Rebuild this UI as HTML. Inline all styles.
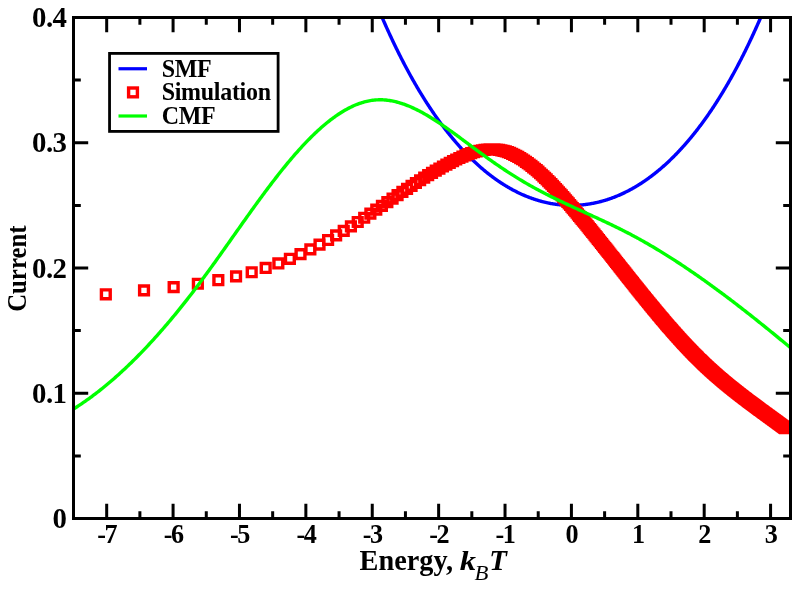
<!DOCTYPE html>
<html><head><meta charset="utf-8"><style>html,body{margin:0;padding:0;background:#fff;overflow:hidden}svg{display:block;will-change:transform}</style></head>
<body>
<svg width="800" height="589" viewBox="0 0 800 589">
<rect width="800" height="589" fill="#fff"/>
<defs><clipPath id="c"><rect x="73.5" y="17.5" width="717.0" height="501.0"/></clipPath></defs>
<g clip-path="url(#c)" fill="none" stroke-width="3.4" stroke-linejoin="round">
<path d="M358.97,-41.60 L359.51,-40.09 L360.05,-38.58 L360.59,-37.09 L361.13,-35.60 L361.67,-34.12 L362.21,-32.64 L362.75,-31.17 L363.29,-29.71 L363.83,-28.25 L364.37,-26.80 L364.91,-25.35 L365.45,-23.92 L365.99,-22.49 L366.53,-21.06 L367.07,-19.64 L367.61,-18.23 L368.15,-16.82 L368.69,-15.42 L369.23,-14.03 L369.77,-12.64 L370.31,-11.26 L370.85,-9.89 L371.39,-8.52 L371.93,-7.16 L372.47,-5.80 L373.01,-4.45 L373.55,-3.10 L374.09,-1.77 L374.63,-0.43 L375.17,0.89 L375.71,2.21 L376.25,3.53 L376.80,4.84 L377.34,6.14 L377.88,7.44 L378.42,8.73 L378.96,10.01 L379.50,11.29 L380.04,12.56 L380.58,13.83 L381.12,15.09 L381.66,16.35 L382.20,17.60 L382.74,18.84 L383.28,20.08 L383.82,21.32 L384.36,22.54 L384.90,23.77 L385.44,24.98 L385.98,26.19 L386.52,27.40 L387.06,28.60 L387.60,29.79 L388.14,30.98 L388.68,32.16 L389.22,33.34 L389.76,34.51 L390.30,35.68 L390.84,36.84 L391.38,38.00 L391.92,39.15 L392.46,40.30 L393.00,41.44 L393.54,42.57 L394.08,43.70 L394.62,44.82 L395.16,45.94 L395.70,47.06 L396.24,48.17 L396.78,49.27 L397.32,50.37 L397.86,51.46 L398.40,52.55 L398.94,53.63 L399.48,54.71 L400.02,55.78 L400.56,56.85 L401.10,57.91 L401.64,58.97 L402.18,60.02 L402.72,61.07 L403.26,62.11 L403.80,63.15 L404.34,64.18 L404.88,65.21 L405.42,66.23 L405.96,67.25 L406.50,68.27 L407.04,69.27 L407.58,70.28 L408.12,71.28 L408.66,72.27 L409.20,73.26 L409.74,74.24 L410.28,75.22 L410.82,76.20 L411.36,77.17 L411.90,78.13 L412.44,79.09 L412.98,80.05 L413.52,81.00 L414.06,81.95 L414.60,82.89 L415.14,83.82 L415.68,84.76 L416.22,85.69 L416.76,86.61 L417.30,87.53 L417.84,88.44 L418.38,89.35 L418.92,90.26 L419.46,91.16 L420.00,92.05 L420.54,92.95 L421.08,93.83 L421.62,94.72 L422.16,95.60 L422.70,96.47 L423.24,97.34 L423.78,98.21 L424.32,99.07 L424.86,99.92 L425.40,100.78 L425.94,101.62 L426.48,102.47 L427.02,103.31 L427.56,104.14 L428.10,104.97 L428.64,105.80 L429.18,106.62 L429.72,107.44 L430.26,108.25 L430.80,109.06 L431.34,109.87 L431.88,110.67 L432.42,111.47 L432.96,112.26 L433.50,113.05 L434.04,113.84 L434.58,114.62 L435.12,115.39 L435.66,116.17 L436.20,116.93 L436.74,117.70 L437.28,118.46 L437.82,119.22 L438.36,119.97 L438.90,120.72 L439.44,121.46 L439.98,122.20 L440.53,122.94 L441.07,123.67 L441.61,124.40 L442.15,125.12 L442.69,125.84 L443.23,126.56 L443.77,127.27 L444.31,127.98 L444.85,128.69 L445.39,129.39 L445.93,130.09 L446.47,130.78 L447.01,131.47 L447.55,132.16 L448.09,132.84 L448.63,133.52 L449.17,134.19 L449.71,134.86 L450.25,135.53 L450.79,136.19 L451.33,136.85 L451.87,137.51 L452.41,138.16 L452.95,138.81 L453.49,139.46 L454.03,140.10 L454.57,140.73 L455.11,141.37 L455.65,142.00 L456.19,142.62 L456.73,143.25 L457.27,143.87 L457.81,144.48 L458.35,145.09 L458.89,145.70 L459.43,146.31 L459.97,146.91 L460.51,147.51 L461.05,148.10 L461.59,148.69 L462.13,149.28 L462.67,149.86 L463.21,150.44 L463.75,151.02 L464.29,151.59 L464.83,152.16 L465.37,152.73 L465.91,153.29 L466.45,153.85 L466.99,154.41 L467.53,154.96 L468.07,155.51 L468.61,156.05 L469.15,156.59 L469.69,157.13 L470.23,157.67 L470.77,158.20 L471.31,158.73 L471.85,159.25 L472.39,159.78 L472.93,160.30 L473.47,160.81 L474.01,161.32 L474.55,161.83 L475.09,162.34 L475.63,162.84 L476.17,163.34 L476.71,163.83 L477.25,164.32 L477.79,164.81 L478.33,165.30 L478.87,165.78 L479.41,166.26 L479.95,166.74 L480.49,167.21 L481.03,167.68 L481.57,168.14 L482.11,168.61 L482.65,169.07 L483.19,169.52 L483.73,169.98 L484.27,170.43 L484.81,170.87 L485.35,171.32 L485.89,171.76 L486.43,172.20 L486.97,172.63 L487.51,173.06 L488.05,173.49 L488.59,173.92 L489.13,174.34 L489.67,174.76 L490.21,175.17 L490.75,175.58 L491.29,175.99 L491.83,176.40 L492.37,176.80 L492.91,177.20 L493.45,177.60 L493.99,178.00 L494.53,178.39 L495.07,178.78 L495.61,179.16 L496.15,179.54 L496.69,179.92 L497.23,180.30 L497.77,180.67 L498.31,181.04 L498.85,181.41 L499.39,181.77 L499.93,182.13 L500.47,182.49 L501.01,182.85 L501.55,183.20 L502.09,183.55 L502.63,183.89 L503.17,184.24 L503.71,184.58 L504.26,184.92 L504.80,185.25 L505.34,185.58 L505.88,185.91 L506.42,186.24 L506.96,186.56 L507.50,186.88 L508.04,187.20 L508.58,187.51 L509.12,187.82 L509.66,188.13 L510.20,188.44 L510.74,188.74 L511.28,189.04 L511.82,189.34 L512.36,189.63 L512.90,189.92 L513.44,190.21 L513.98,190.50 L514.52,190.78 L515.06,191.06 L515.60,191.33 L516.14,191.61 L516.68,191.88 L517.22,192.15 L517.76,192.42 L518.30,192.68 L518.84,192.94 L519.38,193.20 L519.92,193.45 L520.46,193.70 L521.00,193.95 L521.54,194.20 L522.08,194.44 L522.62,194.68 L523.16,194.92 L523.70,195.15 L524.24,195.39 L524.78,195.62 L525.32,195.84 L525.86,196.07 L526.40,196.29 L526.94,196.51 L527.48,196.72 L528.02,196.94 L528.56,197.15 L529.10,197.36 L529.64,197.56 L530.18,197.76 L530.72,197.96 L531.26,198.16 L531.80,198.35 L532.34,198.55 L532.88,198.73 L533.42,198.92 L533.96,199.10 L534.50,199.28 L535.04,199.46 L535.58,199.64 L536.12,199.81 L536.66,199.98 L537.20,200.15 L537.74,200.31 L538.28,200.47 L538.82,200.63 L539.36,200.79 L539.90,200.94 L540.44,201.10 L540.98,201.24 L541.52,201.39 L542.06,201.53 L542.60,201.67 L543.14,201.81 L543.68,201.95 L544.22,202.08 L544.76,202.21 L545.30,202.34 L545.84,202.46 L546.38,202.58 L546.92,202.70 L547.46,202.82 L548.00,202.93 L548.54,203.05 L549.08,203.15 L549.62,203.26 L550.16,203.36 L550.70,203.47 L551.24,203.56 L551.78,203.66 L552.32,203.75 L552.86,203.84 L553.40,203.93 L553.94,204.02 L554.48,204.10 L555.02,204.18 L555.56,204.26 L556.10,204.33 L556.64,204.40 L557.18,204.47 L557.72,204.54 L558.26,204.61 L558.80,204.67 L559.34,204.73 L559.88,204.78 L560.42,204.84 L560.96,204.89 L561.50,204.94 L562.04,204.98 L562.58,205.03 L563.12,205.07 L563.66,205.11 L564.20,205.14 L564.74,205.18 L565.28,205.21 L565.82,205.24 L566.36,205.26 L566.90,205.28 L567.44,205.30 L567.99,205.32 L568.53,205.34 L569.07,205.35 L569.61,205.36 L570.15,205.37 L570.69,205.37 L571.23,205.37 L571.77,205.37 L572.31,205.37 L572.85,205.37 L573.39,205.36 L573.93,205.35 L574.47,205.33 L575.01,205.32 L575.55,205.30 L576.09,205.28 L576.63,205.25 L577.17,205.23 L577.71,205.20 L578.25,205.17 L578.79,205.13 L579.33,205.10 L579.87,205.06 L580.41,205.02 L580.95,204.97 L581.49,204.92 L582.03,204.87 L582.57,204.82 L583.11,204.77 L583.65,204.71 L584.19,204.65 L584.73,204.59 L585.27,204.52 L585.81,204.45 L586.35,204.38 L586.89,204.31 L587.43,204.24 L587.97,204.16 L588.51,204.08 L589.05,203.99 L589.59,203.91 L590.13,203.82 L590.67,203.73 L591.21,203.63 L591.75,203.54 L592.29,203.44 L592.83,203.33 L593.37,203.23 L593.91,203.12 L594.45,203.01 L594.99,202.90 L595.53,202.79 L596.07,202.67 L596.61,202.55 L597.15,202.43 L597.69,202.30 L598.23,202.17 L598.77,202.04 L599.31,201.91 L599.85,201.77 L600.39,201.63 L600.93,201.49 L601.47,201.35 L602.01,201.20 L602.55,201.05 L603.09,200.90 L603.63,200.74 L604.17,200.59 L604.71,200.43 L605.25,200.26 L605.79,200.10 L606.33,199.93 L606.87,199.76 L607.41,199.59 L607.95,199.41 L608.49,199.23 L609.03,199.05 L609.57,198.87 L610.11,198.68 L610.65,198.49 L611.19,198.30 L611.73,198.10 L612.27,197.90 L612.81,197.70 L613.35,197.50 L613.89,197.30 L614.43,197.09 L614.97,196.88 L615.51,196.66 L616.05,196.44 L616.59,196.23 L617.13,196.00 L617.67,195.78 L618.21,195.55 L618.75,195.32 L619.29,195.09 L619.83,194.85 L620.37,194.61 L620.91,194.37 L621.45,194.13 L621.99,193.88 L622.53,193.63 L623.07,193.38 L623.61,193.12 L624.15,192.86 L624.69,192.60 L625.23,192.34 L625.77,192.07 L626.31,191.80 L626.85,191.53 L627.39,191.25 L627.93,190.98 L628.47,190.70 L629.01,190.41 L629.55,190.13 L630.09,189.84 L630.63,189.54 L631.17,189.25 L631.72,188.95 L632.26,188.65 L632.80,188.35 L633.34,188.04 L633.88,187.73 L634.42,187.42 L634.96,187.10 L635.50,186.79 L636.04,186.47 L636.58,186.14 L637.12,185.81 L637.66,185.49 L638.20,185.15 L638.74,184.82 L639.28,184.48 L639.82,184.14 L640.36,183.79 L640.90,183.45 L641.44,183.10 L641.98,182.74 L642.52,182.39 L643.06,182.03 L643.60,181.67 L644.14,181.30 L644.68,180.93 L645.22,180.56 L645.76,180.19 L646.30,179.81 L646.84,179.43 L647.38,179.05 L647.92,178.66 L648.46,178.27 L649.00,177.88 L649.54,177.49 L650.08,177.09 L650.62,176.69 L651.16,176.28 L651.70,175.87 L652.24,175.46 L652.78,175.05 L653.32,174.63 L653.86,174.21 L654.40,173.79 L654.94,173.37 L655.48,172.94 L656.02,172.50 L656.56,172.07 L657.10,171.63 L657.64,171.19 L658.18,170.74 L658.72,170.30 L659.26,169.84 L659.80,169.39 L660.34,168.93 L660.88,168.47 L661.42,168.01 L661.96,167.54 L662.50,167.07 L663.04,166.60 L663.58,166.12 L664.12,165.64 L664.66,165.16 L665.20,164.67 L665.74,164.18 L666.28,163.69 L666.82,163.19 L667.36,162.69 L667.90,162.19 L668.44,161.68 L668.98,161.17 L669.52,160.66 L670.06,160.14 L670.60,159.62 L671.14,159.10 L671.68,158.58 L672.22,158.05 L672.76,157.51 L673.30,156.98 L673.84,156.44 L674.38,155.89 L674.92,155.35 L675.46,154.80 L676.00,154.24 L676.54,153.69 L677.08,153.13 L677.62,152.56 L678.16,152.00 L678.70,151.42 L679.24,150.85 L679.78,150.27 L680.32,149.69 L680.86,149.11 L681.40,148.52 L681.94,147.93 L682.48,147.33 L683.02,146.73 L683.56,146.13 L684.10,145.52 L684.64,144.92 L685.18,144.30 L685.72,143.69 L686.26,143.07 L686.80,142.44 L687.34,141.81 L687.88,141.18 L688.42,140.55 L688.96,139.91 L689.50,139.27 L690.04,138.62 L690.58,137.97 L691.12,137.32 L691.66,136.66 L692.20,136.00 L692.74,135.34 L693.28,134.67 L693.82,134.00 L694.36,133.32 L694.90,132.64 L695.45,131.96 L695.99,131.27 L696.53,130.58 L697.07,129.88 L697.61,129.19 L698.15,128.48 L698.69,127.78 L699.23,127.07 L699.77,126.35 L700.31,125.63 L700.85,124.91 L701.39,124.19 L701.93,123.46 L702.47,122.72 L703.01,121.99 L703.55,121.24 L704.09,120.50 L704.63,119.75 L705.17,119.00 L705.71,118.24 L706.25,117.48 L706.79,116.71 L707.33,115.94 L707.87,115.17 L708.41,114.39 L708.95,113.61 L709.49,112.82 L710.03,112.03 L710.57,111.24 L711.11,110.44 L711.65,109.63 L712.19,108.83 L712.73,108.02 L713.27,107.20 L713.81,106.38 L714.35,105.56 L714.89,104.73 L715.43,103.90 L715.97,103.06 L716.51,102.22 L717.05,101.38 L717.59,100.53 L718.13,99.67 L718.67,98.82 L719.21,97.95 L719.75,97.09 L720.29,96.21 L720.83,95.34 L721.37,94.46 L721.91,93.58 L722.45,92.69 L722.99,91.79 L723.53,90.90 L724.07,89.99 L724.61,89.09 L725.15,88.18 L725.69,87.26 L726.23,86.34 L726.77,85.41 L727.31,84.48 L727.85,83.55 L728.39,82.61 L728.93,81.67 L729.47,80.72 L730.01,79.77 L730.55,78.81 L731.09,77.85 L731.63,76.88 L732.17,75.91 L732.71,74.94 L733.25,73.95 L733.79,72.97 L734.33,71.98 L734.87,70.98 L735.41,69.98 L735.95,68.98 L736.49,67.97 L737.03,66.95 L737.57,65.94 L738.11,64.91 L738.65,63.88 L739.19,62.85 L739.73,61.81 L740.27,60.76 L740.81,59.72 L741.35,58.66 L741.89,57.60 L742.43,56.54 L742.97,55.47 L743.51,54.40 L744.05,53.32 L744.59,52.23 L745.13,51.14 L745.67,50.05 L746.21,48.95 L746.75,47.84 L747.29,46.73 L747.83,45.62 L748.37,44.50 L748.91,43.37 L749.45,42.24 L749.99,41.10 L750.53,39.96 L751.07,38.81 L751.61,37.66 L752.15,36.50 L752.69,35.34 L753.23,34.17 L753.77,33.00 L754.31,31.82 L754.85,30.63 L755.39,29.44 L755.93,28.25 L756.47,27.05 L757.01,25.84 L757.55,24.63 L758.09,23.41 L758.63,22.19 L759.18,20.96 L759.72,19.72 L760.26,18.48 L760.80,17.23 L761.34,15.98 L761.88,14.72 L762.42,13.46 L762.96,12.19 L763.50,10.92 L764.04,9.64 L764.58,8.35 L765.12,7.06 L765.66,5.76 L766.20,4.45 L766.74,3.14 L767.28,1.83 L767.82,0.51 L768.36,-0.82 L768.90,-2.16 L769.44,-3.50 L769.98,-4.84 L770.52,-6.19 L771.06,-7.55 L771.60,-8.92 L772.14,-10.29 L772.68,-11.66 L773.22,-13.05 L773.76,-14.44 L774.30,-15.83 L774.84,-17.23 L775.38,-18.64 L775.92,-20.06 L776.46,-21.48 L777.00,-22.90 L777.54,-24.34 L778.08,-25.78 L778.62,-27.22 L779.16,-28.67 L779.70,-30.13 L780.24,-31.60 L780.78,-33.07 L781.32,-34.55 L781.86,-36.03 L782.40,-37.52 L782.94,-39.02 L783.48,-40.53 L784.02,-42.04 L784.56,-43.56 L785.10,-45.08 L785.64,-46.61 L786.18,-48.15 L786.72,-49.70 L787.26,-51.25 L787.80,-52.81 L788.34,-54.37 L788.88,-55.95 L789.42,-57.53 L789.96,-59.11 L790.50,-60.71" stroke="#0000ff"/>
</g>
<path d="M101.42,289.92h8.799999999999999v8.799999999999999h-8.799999999999999zM139.62,285.94h8.799999999999999v8.799999999999999h-8.799999999999999zM169.25,282.68h8.799999999999999v8.799999999999999h-8.799999999999999zM193.46,279.37h8.799999999999999v8.799999999999999h-8.799999999999999zM213.93,275.81h8.799999999999999v8.799999999999999h-8.799999999999999zM231.66,271.97h8.799999999999999v8.799999999999999h-8.799999999999999zM247.29,267.87h8.799999999999999v8.799999999999999h-8.799999999999999zM261.28,263.56h8.799999999999999v8.799999999999999h-8.799999999999999zM273.94,259.06h8.799999999999999v8.799999999999999h-8.799999999999999zM285.49,254.42h8.799999999999999v8.799999999999999h-8.799999999999999zM296.12,249.71h8.799999999999999v8.799999999999999h-8.799999999999999zM305.96,244.99h8.799999999999999v8.799999999999999h-8.799999999999999zM315.12,240.27h8.799999999999999v8.799999999999999h-8.799999999999999zM323.69,235.60h8.799999999999999v8.799999999999999h-8.799999999999999zM331.74,230.98h8.799999999999999v8.799999999999999h-8.799999999999999zM339.33,226.43h8.799999999999999v8.799999999999999h-8.799999999999999zM346.51,221.96h8.799999999999999v8.799999999999999h-8.799999999999999zM353.32,217.59h8.799999999999999v8.799999999999999h-8.799999999999999zM359.80,213.34h8.799999999999999v8.799999999999999h-8.799999999999999zM365.97,209.22h8.799999999999999v8.799999999999999h-8.799999999999999zM371.88,205.24h8.799999999999999v8.799999999999999h-8.799999999999999zM377.53,201.41h8.799999999999999v8.799999999999999h-8.799999999999999zM382.95,197.72h8.799999999999999v8.799999999999999h-8.799999999999999zM388.16,194.17h8.799999999999999v8.799999999999999h-8.799999999999999zM393.17,190.78h8.799999999999999v8.799999999999999h-8.799999999999999zM398.00,187.52h8.799999999999999v8.799999999999999h-8.799999999999999zM402.65,184.41h8.799999999999999v8.799999999999999h-8.799999999999999zM407.16,181.43h8.799999999999999v8.799999999999999h-8.799999999999999zM411.51,178.59h8.799999999999999v8.799999999999999h-8.799999999999999zM415.73,175.87h8.799999999999999v8.799999999999999h-8.799999999999999zM419.81,173.29h8.799999999999999v8.799999999999999h-8.799999999999999zM423.77,170.82h8.799999999999999v8.799999999999999h-8.799999999999999zM427.62,168.48h8.799999999999999v8.799999999999999h-8.799999999999999zM431.36,166.25h8.799999999999999v8.799999999999999h-8.799999999999999zM435.00,164.13h8.799999999999999v8.799999999999999h-8.799999999999999zM438.54,162.12h8.799999999999999v8.799999999999999h-8.799999999999999zM441.99,160.21h8.799999999999999v8.799999999999999h-8.799999999999999zM445.35,158.40h8.799999999999999v8.799999999999999h-8.799999999999999zM448.63,156.69h8.799999999999999v8.799999999999999h-8.799999999999999zM451.83,155.08h8.799999999999999v8.799999999999999h-8.799999999999999zM454.96,153.58h8.799999999999999v8.799999999999999h-8.799999999999999zM458.01,152.19h8.799999999999999v8.799999999999999h-8.799999999999999zM460.99,150.92h8.799999999999999v8.799999999999999h-8.799999999999999zM463.91,149.77h8.799999999999999v8.799999999999999h-8.799999999999999zM466.77,148.74h8.799999999999999v8.799999999999999h-8.799999999999999zM469.56,147.83h8.799999999999999v8.799999999999999h-8.799999999999999zM472.30,147.04h8.799999999999999v8.799999999999999h-8.799999999999999zM474.98,146.38h8.799999999999999v8.799999999999999h-8.799999999999999zM477.61,145.84h8.799999999999999v8.799999999999999h-8.799999999999999zM480.19,145.42h8.799999999999999v8.799999999999999h-8.799999999999999zM482.72,145.13h8.799999999999999v8.799999999999999h-8.799999999999999zM485.20,144.96h8.799999999999999v8.799999999999999h-8.799999999999999zM487.64,144.91h8.799999999999999v8.799999999999999h-8.799999999999999zM490.03,144.97h8.799999999999999v8.799999999999999h-8.799999999999999zM492.38,145.16h8.799999999999999v8.799999999999999h-8.799999999999999zM494.69,145.46h8.799999999999999v8.799999999999999h-8.799999999999999zM496.96,145.88h8.799999999999999v8.799999999999999h-8.799999999999999zM499.19,146.41h8.799999999999999v8.799999999999999h-8.799999999999999zM501.39,147.03h8.799999999999999v8.799999999999999h-8.799999999999999zM503.54,147.76h8.799999999999999v8.799999999999999h-8.799999999999999zM505.67,148.56h8.799999999999999v8.799999999999999h-8.799999999999999zM507.76,149.45h8.799999999999999v8.799999999999999h-8.799999999999999zM509.82,150.41h8.799999999999999v8.799999999999999h-8.799999999999999zM511.85,151.43h8.799999999999999v8.799999999999999h-8.799999999999999zM513.84,152.52h8.799999999999999v8.799999999999999h-8.799999999999999zM515.81,153.66h8.799999999999999v8.799999999999999h-8.799999999999999zM517.75,154.86h8.799999999999999v8.799999999999999h-8.799999999999999zM519.66,156.10h8.799999999999999v8.799999999999999h-8.799999999999999zM521.54,157.39h8.799999999999999v8.799999999999999h-8.799999999999999zM523.40,158.71h8.799999999999999v8.799999999999999h-8.799999999999999zM525.23,160.08h8.799999999999999v8.799999999999999h-8.799999999999999zM527.04,161.47h8.799999999999999v8.799999999999999h-8.799999999999999zM528.82,162.90h8.799999999999999v8.799999999999999h-8.799999999999999zM530.58,164.35h8.799999999999999v8.799999999999999h-8.799999999999999zM532.31,165.82h8.799999999999999v8.799999999999999h-8.799999999999999zM534.03,167.32h8.799999999999999v8.799999999999999h-8.799999999999999zM535.72,168.84h8.799999999999999v8.799999999999999h-8.799999999999999zM537.39,170.37h8.799999999999999v8.799999999999999h-8.799999999999999zM539.04,171.92h8.799999999999999v8.799999999999999h-8.799999999999999zM540.67,173.48h8.799999999999999v8.799999999999999h-8.799999999999999zM542.28,175.05h8.799999999999999v8.799999999999999h-8.799999999999999zM543.87,176.63h8.799999999999999v8.799999999999999h-8.799999999999999zM545.44,178.22h8.799999999999999v8.799999999999999h-8.799999999999999zM546.99,179.82h8.799999999999999v8.799999999999999h-8.799999999999999zM548.53,181.42h8.799999999999999v8.799999999999999h-8.799999999999999zM550.04,183.02h8.799999999999999v8.799999999999999h-8.799999999999999zM551.54,184.63h8.799999999999999v8.799999999999999h-8.799999999999999zM553.03,186.24h8.799999999999999v8.799999999999999h-8.799999999999999zM554.49,187.85h8.799999999999999v8.799999999999999h-8.799999999999999zM555.95,189.45h8.799999999999999v8.799999999999999h-8.799999999999999zM557.38,191.06h8.799999999999999v8.799999999999999h-8.799999999999999zM558.80,192.66h8.799999999999999v8.799999999999999h-8.799999999999999zM560.21,194.26h8.799999999999999v8.799999999999999h-8.799999999999999zM561.60,195.85h8.799999999999999v8.799999999999999h-8.799999999999999zM562.97,197.44h8.799999999999999v8.799999999999999h-8.799999999999999zM564.33,199.02h8.799999999999999v8.799999999999999h-8.799999999999999zM565.68,200.60h8.799999999999999v8.799999999999999h-8.799999999999999zM567.02,202.17h8.799999999999999v8.799999999999999h-8.799999999999999zM568.34,203.73h8.799999999999999v8.799999999999999h-8.799999999999999zM569.65,205.28h8.799999999999999v8.799999999999999h-8.799999999999999zM570.94,206.82h8.799999999999999v8.799999999999999h-8.799999999999999zM572.22,208.36h8.799999999999999v8.799999999999999h-8.799999999999999zM573.49,209.88h8.799999999999999v8.799999999999999h-8.799999999999999zM574.75,211.40h8.799999999999999v8.799999999999999h-8.799999999999999zM576.00,212.91h8.799999999999999v8.799999999999999h-8.799999999999999zM577.24,214.40h8.799999999999999v8.799999999999999h-8.799999999999999zM578.46,215.89h8.799999999999999v8.799999999999999h-8.799999999999999zM579.67,217.37h8.799999999999999v8.799999999999999h-8.799999999999999zM580.87,218.84h8.799999999999999v8.799999999999999h-8.799999999999999zM582.06,220.30h8.799999999999999v8.799999999999999h-8.799999999999999zM583.24,221.75h8.799999999999999v8.799999999999999h-8.799999999999999zM584.41,223.20h8.799999999999999v8.799999999999999h-8.799999999999999zM585.57,224.63h8.799999999999999v8.799999999999999h-8.799999999999999zM586.72,226.05h8.799999999999999v8.799999999999999h-8.799999999999999zM587.86,227.47h8.799999999999999v8.799999999999999h-8.799999999999999zM588.99,228.87h8.799999999999999v8.799999999999999h-8.799999999999999zM590.11,230.26h8.799999999999999v8.799999999999999h-8.799999999999999zM591.22,231.65h8.799999999999999v8.799999999999999h-8.799999999999999zM592.33,233.03h8.799999999999999v8.799999999999999h-8.799999999999999zM593.42,234.39h8.799999999999999v8.799999999999999h-8.799999999999999zM594.50,235.75h8.799999999999999v8.799999999999999h-8.799999999999999zM595.58,237.10h8.799999999999999v8.799999999999999h-8.799999999999999zM596.65,238.44h8.799999999999999v8.799999999999999h-8.799999999999999zM597.70,239.77h8.799999999999999v8.799999999999999h-8.799999999999999zM598.75,241.09h8.799999999999999v8.799999999999999h-8.799999999999999zM599.79,242.40h8.799999999999999v8.799999999999999h-8.799999999999999zM600.83,243.71h8.799999999999999v8.799999999999999h-8.799999999999999zM601.85,245.00h8.799999999999999v8.799999999999999h-8.799999999999999zM602.87,246.28h8.799999999999999v8.799999999999999h-8.799999999999999zM603.88,247.56h8.799999999999999v8.799999999999999h-8.799999999999999zM604.88,248.83h8.799999999999999v8.799999999999999h-8.799999999999999zM605.88,250.09h8.799999999999999v8.799999999999999h-8.799999999999999zM606.86,251.34h8.799999999999999v8.799999999999999h-8.799999999999999zM607.84,252.58h8.799999999999999v8.799999999999999h-8.799999999999999zM608.82,253.81h8.799999999999999v8.799999999999999h-8.799999999999999zM609.78,255.03h8.799999999999999v8.799999999999999h-8.799999999999999zM610.74,256.25h8.799999999999999v8.799999999999999h-8.799999999999999zM611.69,257.45h8.799999999999999v8.799999999999999h-8.799999999999999zM612.64,258.65h8.799999999999999v8.799999999999999h-8.799999999999999zM613.58,259.84h8.799999999999999v8.799999999999999h-8.799999999999999zM614.51,261.02h8.799999999999999v8.799999999999999h-8.799999999999999zM615.43,262.19h8.799999999999999v8.799999999999999h-8.799999999999999zM616.35,263.36h8.799999999999999v8.799999999999999h-8.799999999999999zM617.26,264.51h8.799999999999999v8.799999999999999h-8.799999999999999zM618.17,265.66h8.799999999999999v8.799999999999999h-8.799999999999999zM619.07,266.80h8.799999999999999v8.799999999999999h-8.799999999999999zM619.97,267.93h8.799999999999999v8.799999999999999h-8.799999999999999zM620.85,269.05h8.799999999999999v8.799999999999999h-8.799999999999999zM621.74,270.17h8.799999999999999v8.799999999999999h-8.799999999999999zM622.61,271.28h8.799999999999999v8.799999999999999h-8.799999999999999zM623.48,272.38h8.799999999999999v8.799999999999999h-8.799999999999999zM624.35,273.47h8.799999999999999v8.799999999999999h-8.799999999999999zM625.21,274.55h8.799999999999999v8.799999999999999h-8.799999999999999zM626.06,275.63h8.799999999999999v8.799999999999999h-8.799999999999999zM626.91,276.70h8.799999999999999v8.799999999999999h-8.799999999999999zM627.75,277.76h8.799999999999999v8.799999999999999h-8.799999999999999zM628.59,278.81h8.799999999999999v8.799999999999999h-8.799999999999999zM629.42,279.85h8.799999999999999v8.799999999999999h-8.799999999999999zM630.25,280.89h8.799999999999999v8.799999999999999h-8.799999999999999zM631.07,281.92h8.799999999999999v8.799999999999999h-8.799999999999999zM631.89,282.95h8.799999999999999v8.799999999999999h-8.799999999999999zM632.70,283.96h8.799999999999999v8.799999999999999h-8.799999999999999zM633.51,284.97h8.799999999999999v8.799999999999999h-8.799999999999999zM634.31,285.97h8.799999999999999v8.799999999999999h-8.799999999999999zM635.11,286.97h8.799999999999999v8.799999999999999h-8.799999999999999zM635.90,287.95h8.799999999999999v8.799999999999999h-8.799999999999999zM636.69,288.93h8.799999999999999v8.799999999999999h-8.799999999999999zM637.47,289.91h8.799999999999999v8.799999999999999h-8.799999999999999zM638.25,290.87h8.799999999999999v8.799999999999999h-8.799999999999999zM639.03,291.83h8.799999999999999v8.799999999999999h-8.799999999999999zM639.80,292.78h8.799999999999999v8.799999999999999h-8.799999999999999zM640.56,293.73h8.799999999999999v8.799999999999999h-8.799999999999999zM641.32,294.67h8.799999999999999v8.799999999999999h-8.799999999999999zM642.08,295.60h8.799999999999999v8.799999999999999h-8.799999999999999zM642.83,296.53h8.799999999999999v8.799999999999999h-8.799999999999999zM643.58,297.44h8.799999999999999v8.799999999999999h-8.799999999999999zM644.32,298.36h8.799999999999999v8.799999999999999h-8.799999999999999zM645.06,299.26h8.799999999999999v8.799999999999999h-8.799999999999999zM645.80,300.16h8.799999999999999v8.799999999999999h-8.799999999999999zM646.53,301.05h8.799999999999999v8.799999999999999h-8.799999999999999zM647.26,301.94h8.799999999999999v8.799999999999999h-8.799999999999999zM647.98,302.82h8.799999999999999v8.799999999999999h-8.799999999999999zM648.70,303.69h8.799999999999999v8.799999999999999h-8.799999999999999zM649.42,304.56h8.799999999999999v8.799999999999999h-8.799999999999999zM650.13,305.42h8.799999999999999v8.799999999999999h-8.799999999999999zM650.84,306.27h8.799999999999999v8.799999999999999h-8.799999999999999zM651.54,307.12h8.799999999999999v8.799999999999999h-8.799999999999999zM652.24,307.96h8.799999999999999v8.799999999999999h-8.799999999999999zM652.94,308.80h8.799999999999999v8.799999999999999h-8.799999999999999zM653.63,309.63h8.799999999999999v8.799999999999999h-8.799999999999999zM654.32,310.46h8.799999999999999v8.799999999999999h-8.799999999999999zM655.01,311.27h8.799999999999999v8.799999999999999h-8.799999999999999zM655.69,312.09h8.799999999999999v8.799999999999999h-8.799999999999999zM656.37,312.89h8.799999999999999v8.799999999999999h-8.799999999999999zM657.04,313.69h8.799999999999999v8.799999999999999h-8.799999999999999zM657.72,314.49h8.799999999999999v8.799999999999999h-8.799999999999999zM658.39,315.28h8.799999999999999v8.799999999999999h-8.799999999999999zM659.05,316.06h8.799999999999999v8.799999999999999h-8.799999999999999zM659.71,316.84h8.799999999999999v8.799999999999999h-8.799999999999999zM660.37,317.61h8.799999999999999v8.799999999999999h-8.799999999999999zM661.03,318.38h8.799999999999999v8.799999999999999h-8.799999999999999zM661.68,319.14h8.799999999999999v8.799999999999999h-8.799999999999999zM662.33,319.90h8.799999999999999v8.799999999999999h-8.799999999999999zM662.98,320.65h8.799999999999999v8.799999999999999h-8.799999999999999zM663.62,321.39h8.799999999999999v8.799999999999999h-8.799999999999999zM664.26,322.13h8.799999999999999v8.799999999999999h-8.799999999999999zM664.90,322.87h8.799999999999999v8.799999999999999h-8.799999999999999zM665.53,323.60h8.799999999999999v8.799999999999999h-8.799999999999999zM666.16,324.32h8.799999999999999v8.799999999999999h-8.799999999999999zM666.79,325.04h8.799999999999999v8.799999999999999h-8.799999999999999zM667.41,325.76h8.799999999999999v8.799999999999999h-8.799999999999999zM668.03,326.46h8.799999999999999v8.799999999999999h-8.799999999999999zM668.65,327.17h8.799999999999999v8.799999999999999h-8.799999999999999zM669.27,327.87h8.799999999999999v8.799999999999999h-8.799999999999999zM669.88,328.56h8.799999999999999v8.799999999999999h-8.799999999999999zM670.49,329.25h8.799999999999999v8.799999999999999h-8.799999999999999zM671.10,329.93h8.799999999999999v8.799999999999999h-8.799999999999999zM671.71,330.61h8.799999999999999v8.799999999999999h-8.799999999999999zM672.31,331.28h8.799999999999999v8.799999999999999h-8.799999999999999zM672.91,331.95h8.799999999999999v8.799999999999999h-8.799999999999999zM673.50,332.62h8.799999999999999v8.799999999999999h-8.799999999999999zM674.10,333.27h8.799999999999999v8.799999999999999h-8.799999999999999zM674.69,333.93h8.799999999999999v8.799999999999999h-8.799999999999999zM675.28,334.58h8.799999999999999v8.799999999999999h-8.799999999999999zM675.87,335.22h8.799999999999999v8.799999999999999h-8.799999999999999zM676.45,335.86h8.799999999999999v8.799999999999999h-8.799999999999999zM677.03,336.50h8.799999999999999v8.799999999999999h-8.799999999999999zM677.61,337.13h8.799999999999999v8.799999999999999h-8.799999999999999zM678.18,337.76h8.799999999999999v8.799999999999999h-8.799999999999999zM678.76,338.38h8.799999999999999v8.799999999999999h-8.799999999999999zM679.33,339.00h8.799999999999999v8.799999999999999h-8.799999999999999zM679.90,339.61h8.799999999999999v8.799999999999999h-8.799999999999999zM680.46,340.22h8.799999999999999v8.799999999999999h-8.799999999999999zM681.03,340.82h8.799999999999999v8.799999999999999h-8.799999999999999zM681.59,341.42h8.799999999999999v8.799999999999999h-8.799999999999999zM682.15,342.02h8.799999999999999v8.799999999999999h-8.799999999999999zM682.71,342.61h8.799999999999999v8.799999999999999h-8.799999999999999zM683.26,343.20h8.799999999999999v8.799999999999999h-8.799999999999999zM683.81,343.78h8.799999999999999v8.799999999999999h-8.799999999999999zM684.36,344.36h8.799999999999999v8.799999999999999h-8.799999999999999zM684.91,344.93h8.799999999999999v8.799999999999999h-8.799999999999999zM685.45,345.50h8.799999999999999v8.799999999999999h-8.799999999999999zM686.00,346.07h8.799999999999999v8.799999999999999h-8.799999999999999zM686.54,346.63h8.799999999999999v8.799999999999999h-8.799999999999999zM687.08,347.19h8.799999999999999v8.799999999999999h-8.799999999999999zM687.61,347.74h8.799999999999999v8.799999999999999h-8.799999999999999zM688.15,348.29h8.799999999999999v8.799999999999999h-8.799999999999999zM688.68,348.84h8.799999999999999v8.799999999999999h-8.799999999999999zM689.21,349.38h8.799999999999999v8.799999999999999h-8.799999999999999zM689.74,349.92h8.799999999999999v8.799999999999999h-8.799999999999999zM690.26,350.45h8.799999999999999v8.799999999999999h-8.799999999999999zM690.79,350.98h8.799999999999999v8.799999999999999h-8.799999999999999zM691.31,351.51h8.799999999999999v8.799999999999999h-8.799999999999999zM691.83,352.03h8.799999999999999v8.799999999999999h-8.799999999999999zM692.35,352.55h8.799999999999999v8.799999999999999h-8.799999999999999zM692.86,353.06h8.799999999999999v8.799999999999999h-8.799999999999999zM693.38,353.57h8.799999999999999v8.799999999999999h-8.799999999999999zM693.89,354.08h8.799999999999999v8.799999999999999h-8.799999999999999zM694.40,354.58h8.799999999999999v8.799999999999999h-8.799999999999999zM694.90,355.08h8.799999999999999v8.799999999999999h-8.799999999999999zM695.41,355.58h8.799999999999999v8.799999999999999h-8.799999999999999zM695.91,356.07h8.799999999999999v8.799999999999999h-8.799999999999999zM696.42,356.56h8.799999999999999v8.799999999999999h-8.799999999999999zM696.92,357.04h8.799999999999999v8.799999999999999h-8.799999999999999zM697.41,357.52h8.799999999999999v8.799999999999999h-8.799999999999999zM697.91,358.00h8.799999999999999v8.799999999999999h-8.799999999999999zM698.41,358.48h8.799999999999999v8.799999999999999h-8.799999999999999zM698.90,358.95h8.799999999999999v8.799999999999999h-8.799999999999999zM699.39,359.41h8.799999999999999v8.799999999999999h-8.799999999999999zM699.88,359.88h8.799999999999999v8.799999999999999h-8.799999999999999zM700.37,360.34h8.799999999999999v8.799999999999999h-8.799999999999999zM700.85,360.80h8.799999999999999v8.799999999999999h-8.799999999999999zM701.33,361.25h8.799999999999999v8.799999999999999h-8.799999999999999zM701.82,361.70h8.799999999999999v8.799999999999999h-8.799999999999999zM702.30,362.15h8.799999999999999v8.799999999999999h-8.799999999999999zM702.78,362.60h8.799999999999999v8.799999999999999h-8.799999999999999zM703.25,363.04h8.799999999999999v8.799999999999999h-8.799999999999999zM703.73,363.48h8.799999999999999v8.799999999999999h-8.799999999999999zM704.20,363.92h8.799999999999999v8.799999999999999h-8.799999999999999zM704.67,364.35h8.799999999999999v8.799999999999999h-8.799999999999999zM705.14,364.78h8.799999999999999v8.799999999999999h-8.799999999999999zM705.61,365.21h8.799999999999999v8.799999999999999h-8.799999999999999zM706.08,365.63h8.799999999999999v8.799999999999999h-8.799999999999999zM706.54,366.06h8.799999999999999v8.799999999999999h-8.799999999999999zM707.01,366.48h8.799999999999999v8.799999999999999h-8.799999999999999zM707.47,366.89h8.799999999999999v8.799999999999999h-8.799999999999999zM707.93,367.31h8.799999999999999v8.799999999999999h-8.799999999999999zM708.39,367.72h8.799999999999999v8.799999999999999h-8.799999999999999zM708.84,368.13h8.799999999999999v8.799999999999999h-8.799999999999999zM709.30,368.53h8.799999999999999v8.799999999999999h-8.799999999999999zM709.75,368.94h8.799999999999999v8.799999999999999h-8.799999999999999zM710.21,369.34h8.799999999999999v8.799999999999999h-8.799999999999999zM710.66,369.74h8.799999999999999v8.799999999999999h-8.799999999999999zM711.11,370.13h8.799999999999999v8.799999999999999h-8.799999999999999zM711.55,370.53h8.799999999999999v8.799999999999999h-8.799999999999999zM712.00,370.92h8.799999999999999v8.799999999999999h-8.799999999999999zM712.44,371.31h8.799999999999999v8.799999999999999h-8.799999999999999zM712.89,371.69h8.799999999999999v8.799999999999999h-8.799999999999999zM713.33,372.08h8.799999999999999v8.799999999999999h-8.799999999999999zM713.77,372.46h8.799999999999999v8.799999999999999h-8.799999999999999zM714.21,372.84h8.799999999999999v8.799999999999999h-8.799999999999999zM714.65,373.22h8.799999999999999v8.799999999999999h-8.799999999999999zM715.08,373.59h8.799999999999999v8.799999999999999h-8.799999999999999zM715.52,373.97h8.799999999999999v8.799999999999999h-8.799999999999999zM715.95,374.34h8.799999999999999v8.799999999999999h-8.799999999999999zM716.38,374.71h8.799999999999999v8.799999999999999h-8.799999999999999zM716.81,375.07h8.799999999999999v8.799999999999999h-8.799999999999999zM717.24,375.44h8.799999999999999v8.799999999999999h-8.799999999999999zM717.67,375.80h8.799999999999999v8.799999999999999h-8.799999999999999zM718.10,376.16h8.799999999999999v8.799999999999999h-8.799999999999999zM718.52,376.52h8.799999999999999v8.799999999999999h-8.799999999999999zM718.94,376.88h8.799999999999999v8.799999999999999h-8.799999999999999zM719.37,377.23h8.799999999999999v8.799999999999999h-8.799999999999999zM719.79,377.58h8.799999999999999v8.799999999999999h-8.799999999999999zM720.21,377.93h8.799999999999999v8.799999999999999h-8.799999999999999zM720.62,378.28h8.799999999999999v8.799999999999999h-8.799999999999999zM721.04,378.63h8.799999999999999v8.799999999999999h-8.799999999999999zM721.46,378.97h8.799999999999999v8.799999999999999h-8.799999999999999zM721.87,379.32h8.799999999999999v8.799999999999999h-8.799999999999999zM722.28,379.66h8.799999999999999v8.799999999999999h-8.799999999999999zM722.70,380.00h8.799999999999999v8.799999999999999h-8.799999999999999zM723.11,380.34h8.799999999999999v8.799999999999999h-8.799999999999999zM723.52,380.67h8.799999999999999v8.799999999999999h-8.799999999999999zM723.92,381.01h8.799999999999999v8.799999999999999h-8.799999999999999zM724.33,381.34h8.799999999999999v8.799999999999999h-8.799999999999999zM724.74,381.67h8.799999999999999v8.799999999999999h-8.799999999999999zM725.14,382.00h8.799999999999999v8.799999999999999h-8.799999999999999zM725.54,382.33h8.799999999999999v8.799999999999999h-8.799999999999999zM725.94,382.65h8.799999999999999v8.799999999999999h-8.799999999999999zM726.35,382.98h8.799999999999999v8.799999999999999h-8.799999999999999zM726.74,383.30h8.799999999999999v8.799999999999999h-8.799999999999999zM727.14,383.62h8.799999999999999v8.799999999999999h-8.799999999999999zM727.54,383.94h8.799999999999999v8.799999999999999h-8.799999999999999zM727.94,384.26h8.799999999999999v8.799999999999999h-8.799999999999999zM728.33,384.57h8.799999999999999v8.799999999999999h-8.799999999999999zM728.72,384.89h8.799999999999999v8.799999999999999h-8.799999999999999zM729.12,385.20h8.799999999999999v8.799999999999999h-8.799999999999999zM729.51,385.51h8.799999999999999v8.799999999999999h-8.799999999999999zM729.90,385.82h8.799999999999999v8.799999999999999h-8.799999999999999zM730.29,386.13h8.799999999999999v8.799999999999999h-8.799999999999999zM730.67,386.44h8.799999999999999v8.799999999999999h-8.799999999999999zM731.06,386.75h8.799999999999999v8.799999999999999h-8.799999999999999zM731.45,387.05h8.799999999999999v8.799999999999999h-8.799999999999999zM731.83,387.35h8.799999999999999v8.799999999999999h-8.799999999999999zM732.21,387.66h8.799999999999999v8.799999999999999h-8.799999999999999zM732.59,387.96h8.799999999999999v8.799999999999999h-8.799999999999999zM732.98,388.26h8.799999999999999v8.799999999999999h-8.799999999999999zM733.36,388.55h8.799999999999999v8.799999999999999h-8.799999999999999zM733.73,388.85h8.799999999999999v8.799999999999999h-8.799999999999999zM734.11,389.14h8.799999999999999v8.799999999999999h-8.799999999999999zM734.49,389.44h8.799999999999999v8.799999999999999h-8.799999999999999zM734.86,389.73h8.799999999999999v8.799999999999999h-8.799999999999999zM735.24,390.02h8.799999999999999v8.799999999999999h-8.799999999999999zM735.61,390.31h8.799999999999999v8.799999999999999h-8.799999999999999zM735.99,390.60h8.799999999999999v8.799999999999999h-8.799999999999999zM736.36,390.89h8.799999999999999v8.799999999999999h-8.799999999999999zM736.73,391.18h8.799999999999999v8.799999999999999h-8.799999999999999zM737.10,391.46h8.799999999999999v8.799999999999999h-8.799999999999999zM737.46,391.75h8.799999999999999v8.799999999999999h-8.799999999999999zM737.83,392.03h8.799999999999999v8.799999999999999h-8.799999999999999zM738.20,392.31h8.799999999999999v8.799999999999999h-8.799999999999999zM738.56,392.59h8.799999999999999v8.799999999999999h-8.799999999999999zM738.93,392.87h8.799999999999999v8.799999999999999h-8.799999999999999zM739.29,393.15h8.799999999999999v8.799999999999999h-8.799999999999999zM739.65,393.43h8.799999999999999v8.799999999999999h-8.799999999999999zM740.01,393.70h8.799999999999999v8.799999999999999h-8.799999999999999zM740.37,393.98h8.799999999999999v8.799999999999999h-8.799999999999999zM740.73,394.25h8.799999999999999v8.799999999999999h-8.799999999999999zM741.09,394.52h8.799999999999999v8.799999999999999h-8.799999999999999zM741.45,394.80h8.799999999999999v8.799999999999999h-8.799999999999999zM741.81,395.07h8.799999999999999v8.799999999999999h-8.799999999999999zM742.16,395.34h8.799999999999999v8.799999999999999h-8.799999999999999zM742.52,395.60h8.799999999999999v8.799999999999999h-8.799999999999999zM742.87,395.87h8.799999999999999v8.799999999999999h-8.799999999999999zM743.22,396.14h8.799999999999999v8.799999999999999h-8.799999999999999zM743.57,396.40h8.799999999999999v8.799999999999999h-8.799999999999999zM743.93,396.67h8.799999999999999v8.799999999999999h-8.799999999999999zM744.28,396.93h8.799999999999999v8.799999999999999h-8.799999999999999zM744.62,397.20h8.799999999999999v8.799999999999999h-8.799999999999999zM744.97,397.46h8.799999999999999v8.799999999999999h-8.799999999999999zM745.32,397.72h8.799999999999999v8.799999999999999h-8.799999999999999zM745.67,397.98h8.799999999999999v8.799999999999999h-8.799999999999999zM746.01,398.24h8.799999999999999v8.799999999999999h-8.799999999999999zM746.36,398.50h8.799999999999999v8.799999999999999h-8.799999999999999zM746.70,398.75h8.799999999999999v8.799999999999999h-8.799999999999999zM747.04,399.01h8.799999999999999v8.799999999999999h-8.799999999999999zM747.38,399.26h8.799999999999999v8.799999999999999h-8.799999999999999zM747.72,399.52h8.799999999999999v8.799999999999999h-8.799999999999999zM748.06,399.77h8.799999999999999v8.799999999999999h-8.799999999999999zM748.40,400.03h8.799999999999999v8.799999999999999h-8.799999999999999zM748.74,400.28h8.799999999999999v8.799999999999999h-8.799999999999999zM749.08,400.53h8.799999999999999v8.799999999999999h-8.799999999999999zM749.42,400.78h8.799999999999999v8.799999999999999h-8.799999999999999zM749.75,401.03h8.799999999999999v8.799999999999999h-8.799999999999999zM750.09,401.28h8.799999999999999v8.799999999999999h-8.799999999999999zM750.42,401.53h8.799999999999999v8.799999999999999h-8.799999999999999zM750.75,401.77h8.799999999999999v8.799999999999999h-8.799999999999999zM751.09,402.02h8.799999999999999v8.799999999999999h-8.799999999999999zM751.42,402.26h8.799999999999999v8.799999999999999h-8.799999999999999zM751.75,402.51h8.799999999999999v8.799999999999999h-8.799999999999999zM752.08,402.75h8.799999999999999v8.799999999999999h-8.799999999999999zM752.41,403.00h8.799999999999999v8.799999999999999h-8.799999999999999zM752.74,403.24h8.799999999999999v8.799999999999999h-8.799999999999999zM753.06,403.48h8.799999999999999v8.799999999999999h-8.799999999999999zM753.39,403.72h8.799999999999999v8.799999999999999h-8.799999999999999zM753.72,403.96h8.799999999999999v8.799999999999999h-8.799999999999999zM754.04,404.20h8.799999999999999v8.799999999999999h-8.799999999999999zM754.36,404.44h8.799999999999999v8.799999999999999h-8.799999999999999zM754.69,404.68h8.799999999999999v8.799999999999999h-8.799999999999999zM755.01,404.92h8.799999999999999v8.799999999999999h-8.799999999999999zM755.33,405.15h8.799999999999999v8.799999999999999h-8.799999999999999zM755.65,405.39h8.799999999999999v8.799999999999999h-8.799999999999999zM755.97,405.62h8.799999999999999v8.799999999999999h-8.799999999999999zM756.29,405.86h8.799999999999999v8.799999999999999h-8.799999999999999zM756.61,406.09h8.799999999999999v8.799999999999999h-8.799999999999999zM756.93,406.33h8.799999999999999v8.799999999999999h-8.799999999999999zM757.25,406.56h8.799999999999999v8.799999999999999h-8.799999999999999zM757.56,406.79h8.799999999999999v8.799999999999999h-8.799999999999999zM757.88,407.02h8.799999999999999v8.799999999999999h-8.799999999999999zM758.19,407.25h8.799999999999999v8.799999999999999h-8.799999999999999zM758.51,407.48h8.799999999999999v8.799999999999999h-8.799999999999999zM758.82,407.71h8.799999999999999v8.799999999999999h-8.799999999999999zM759.14,407.94h8.799999999999999v8.799999999999999h-8.799999999999999zM759.45,408.17h8.799999999999999v8.799999999999999h-8.799999999999999zM759.76,408.40h8.799999999999999v8.799999999999999h-8.799999999999999zM760.07,408.62h8.799999999999999v8.799999999999999h-8.799999999999999zM760.38,408.85h8.799999999999999v8.799999999999999h-8.799999999999999zM760.69,409.08h8.799999999999999v8.799999999999999h-8.799999999999999zM761.00,409.30h8.799999999999999v8.799999999999999h-8.799999999999999zM761.30,409.53h8.799999999999999v8.799999999999999h-8.799999999999999zM761.61,409.75h8.799999999999999v8.799999999999999h-8.799999999999999zM761.92,409.97h8.799999999999999v8.799999999999999h-8.799999999999999zM762.22,410.20h8.799999999999999v8.799999999999999h-8.799999999999999zM762.53,410.42h8.799999999999999v8.799999999999999h-8.799999999999999zM762.83,410.64h8.799999999999999v8.799999999999999h-8.799999999999999zM763.14,410.86h8.799999999999999v8.799999999999999h-8.799999999999999zM763.44,411.08h8.799999999999999v8.799999999999999h-8.799999999999999zM763.74,411.30h8.799999999999999v8.799999999999999h-8.799999999999999zM764.04,411.52h8.799999999999999v8.799999999999999h-8.799999999999999zM764.34,411.74h8.799999999999999v8.799999999999999h-8.799999999999999zM764.64,411.96h8.799999999999999v8.799999999999999h-8.799999999999999zM764.94,412.18h8.799999999999999v8.799999999999999h-8.799999999999999zM765.24,412.40h8.799999999999999v8.799999999999999h-8.799999999999999zM765.54,412.62h8.799999999999999v8.799999999999999h-8.799999999999999zM765.84,412.83h8.799999999999999v8.799999999999999h-8.799999999999999zM766.13,413.05h8.799999999999999v8.799999999999999h-8.799999999999999zM766.43,413.26h8.799999999999999v8.799999999999999h-8.799999999999999zM766.72,413.48h8.799999999999999v8.799999999999999h-8.799999999999999zM767.02,413.69h8.799999999999999v8.799999999999999h-8.799999999999999zM767.31,413.91h8.799999999999999v8.799999999999999h-8.799999999999999zM767.61,414.12h8.799999999999999v8.799999999999999h-8.799999999999999zM767.90,414.34h8.799999999999999v8.799999999999999h-8.799999999999999zM768.19,414.55h8.799999999999999v8.799999999999999h-8.799999999999999zM768.48,414.76h8.799999999999999v8.799999999999999h-8.799999999999999zM768.77,414.97h8.799999999999999v8.799999999999999h-8.799999999999999zM769.06,415.19h8.799999999999999v8.799999999999999h-8.799999999999999zM769.35,415.40h8.799999999999999v8.799999999999999h-8.799999999999999zM769.64,415.61h8.799999999999999v8.799999999999999h-8.799999999999999zM769.93,415.82h8.799999999999999v8.799999999999999h-8.799999999999999zM770.22,416.03h8.799999999999999v8.799999999999999h-8.799999999999999zM770.51,416.24h8.799999999999999v8.799999999999999h-8.799999999999999zM770.79,416.45h8.799999999999999v8.799999999999999h-8.799999999999999zM771.08,416.65h8.799999999999999v8.799999999999999h-8.799999999999999zM771.36,416.86h8.799999999999999v8.799999999999999h-8.799999999999999zM771.65,417.07h8.799999999999999v8.799999999999999h-8.799999999999999zM771.93,417.28h8.799999999999999v8.799999999999999h-8.799999999999999zM772.22,417.49h8.799999999999999v8.799999999999999h-8.799999999999999zM772.50,417.69h8.799999999999999v8.799999999999999h-8.799999999999999zM772.78,417.90h8.799999999999999v8.799999999999999h-8.799999999999999zM773.06,418.10h8.799999999999999v8.799999999999999h-8.799999999999999zM773.34,418.31h8.799999999999999v8.799999999999999h-8.799999999999999zM773.62,418.51h8.799999999999999v8.799999999999999h-8.799999999999999zM773.90,418.72h8.799999999999999v8.799999999999999h-8.799999999999999zM774.18,418.92h8.799999999999999v8.799999999999999h-8.799999999999999zM774.46,419.13h8.799999999999999v8.799999999999999h-8.799999999999999zM774.74,419.33h8.799999999999999v8.799999999999999h-8.799999999999999zM775.02,419.53h8.799999999999999v8.799999999999999h-8.799999999999999zM775.29,419.74h8.799999999999999v8.799999999999999h-8.799999999999999zM775.57,419.94h8.799999999999999v8.799999999999999h-8.799999999999999zM775.85,420.14h8.799999999999999v8.799999999999999h-8.799999999999999zM776.12,420.34h8.799999999999999v8.799999999999999h-8.799999999999999zM776.40,420.54h8.799999999999999v8.799999999999999h-8.799999999999999zM776.67,420.75h8.799999999999999v8.799999999999999h-8.799999999999999zM776.94,420.95h8.799999999999999v8.799999999999999h-8.799999999999999zM777.22,421.15h8.799999999999999v8.799999999999999h-8.799999999999999zM777.49,421.35h8.799999999999999v8.799999999999999h-8.799999999999999zM777.76,421.55h8.799999999999999v8.799999999999999h-8.799999999999999zM778.03,421.75h8.799999999999999v8.799999999999999h-8.799999999999999zM778.30,421.95h8.799999999999999v8.799999999999999h-8.799999999999999zM778.57,422.14h8.799999999999999v8.799999999999999h-8.799999999999999zM778.84,422.34h8.799999999999999v8.799999999999999h-8.799999999999999zM779.11,422.54h8.799999999999999v8.799999999999999h-8.799999999999999zM779.38,422.74h8.799999999999999v8.799999999999999h-8.799999999999999zM779.65,422.94h8.799999999999999v8.799999999999999h-8.799999999999999zM779.92,423.13h8.799999999999999v8.799999999999999h-8.799999999999999zM780.18,423.33h8.799999999999999v8.799999999999999h-8.799999999999999zM780.45,423.53h8.799999999999999v8.799999999999999h-8.799999999999999zM780.71,423.72h8.799999999999999v8.799999999999999h-8.799999999999999z" fill="none" stroke="#ff0000" stroke-width="3.4"/>
<g clip-path="url(#c)" fill="none" stroke-width="3.4" stroke-linejoin="round">
<path d="M73.50,408.98 L74.70,408.23 L75.89,407.47 L77.09,406.70 L78.29,405.92 L79.48,405.14 L80.68,404.34 L81.88,403.54 L83.08,402.72 L84.27,401.90 L85.47,401.07 L86.67,400.22 L87.86,399.37 L89.06,398.51 L90.26,397.65 L91.45,396.77 L92.65,395.88 L93.85,394.99 L95.05,394.08 L96.24,393.17 L97.44,392.25 L98.64,391.32 L99.83,390.38 L101.03,389.43 L102.23,388.47 L103.42,387.50 L104.62,386.53 L105.82,385.54 L107.02,384.55 L108.21,383.55 L109.41,382.54 L110.61,381.52 L111.80,380.50 L113.00,379.46 L114.20,378.42 L115.39,377.36 L116.59,376.30 L117.79,375.23 L118.99,374.15 L120.18,373.07 L121.38,371.97 L122.58,370.87 L123.77,369.76 L124.97,368.64 L126.17,367.51 L127.36,366.37 L128.56,365.23 L129.76,364.07 L130.96,362.91 L132.15,361.74 L133.35,360.56 L134.55,359.37 L135.74,358.18 L136.94,356.98 L138.14,355.77 L139.33,354.55 L140.53,353.32 L141.73,352.08 L142.93,350.84 L144.12,349.59 L145.32,348.33 L146.52,347.06 L147.71,345.79 L148.91,344.50 L150.11,343.21 L151.30,341.91 L152.50,340.60 L153.70,339.29 L154.90,337.97 L156.09,336.63 L157.29,335.30 L158.49,333.95 L159.68,332.60 L160.88,331.23 L162.08,329.86 L163.27,328.49 L164.47,327.10 L165.67,325.71 L166.87,324.31 L168.06,322.90 L169.26,321.49 L170.46,320.06 L171.65,318.63 L172.85,317.19 L174.05,315.75 L175.24,314.30 L176.44,312.83 L177.64,311.37 L178.84,309.89 L180.03,308.41 L181.23,306.92 L182.43,305.42 L183.62,303.92 L184.82,302.40 L186.02,300.88 L187.21,299.36 L188.41,297.82 L189.61,296.28 L190.81,294.73 L192.00,293.18 L193.20,291.61 L194.40,290.04 L195.59,288.47 L196.79,286.88 L197.99,285.29 L199.18,283.69 L200.38,282.09 L201.58,280.48 L202.78,278.86 L203.97,277.24 L205.17,275.61 L206.37,273.97 L207.56,272.33 L208.76,270.69 L209.96,269.04 L211.15,267.38 L212.35,265.72 L213.55,264.06 L214.75,262.39 L215.94,260.72 L217.14,259.05 L218.34,257.37 L219.53,255.69 L220.73,254.01 L221.93,252.32 L223.12,250.64 L224.32,248.95 L225.52,247.26 L226.72,245.56 L227.91,243.87 L229.11,242.18 L230.31,240.48 L231.50,238.79 L232.70,237.09 L233.90,235.39 L235.09,233.70 L236.29,232.00 L237.49,230.31 L238.69,228.61 L239.88,226.92 L241.08,225.23 L242.28,223.54 L243.47,221.85 L244.67,220.17 L245.87,218.48 L247.06,216.80 L248.26,215.13 L249.46,213.45 L250.66,211.78 L251.85,210.11 L253.05,208.45 L254.25,206.79 L255.44,205.13 L256.64,203.48 L257.84,201.84 L259.03,200.20 L260.23,198.56 L261.43,196.93 L262.63,195.31 L263.82,193.69 L265.02,192.07 L266.22,190.47 L267.41,188.87 L268.61,187.28 L269.81,185.69 L271.00,184.11 L272.20,182.54 L273.40,180.98 L274.60,179.43 L275.79,177.88 L276.99,176.34 L278.19,174.82 L279.38,173.30 L280.58,171.79 L281.78,170.29 L282.97,168.80 L284.17,167.31 L285.37,165.84 L286.57,164.38 L287.76,162.94 L288.96,161.50 L290.16,160.07 L291.35,158.65 L292.55,157.25 L293.75,155.86 L294.94,154.48 L296.14,153.11 L297.34,151.76 L298.54,150.41 L299.73,149.09 L300.93,147.77 L302.13,146.47 L303.32,145.18 L304.52,143.90 L305.72,142.64 L306.91,141.39 L308.11,140.16 L309.31,138.94 L310.51,137.73 L311.70,136.54 L312.90,135.37 L314.10,134.21 L315.29,133.06 L316.49,131.94 L317.69,130.82 L318.88,129.73 L320.08,128.65 L321.28,127.58 L322.47,126.54 L323.67,125.51 L324.87,124.49 L326.07,123.50 L327.26,122.52 L328.46,121.56 L329.66,120.61 L330.85,119.69 L332.05,118.78 L333.25,117.89 L334.44,117.02 L335.64,116.17 L336.84,115.34 L338.04,114.53 L339.23,113.74 L340.43,112.96 L341.63,112.21 L342.82,111.48 L344.02,110.76 L345.22,110.07 L346.41,109.40 L347.61,108.75 L348.81,108.12 L350.01,107.51 L351.20,106.92 L352.40,106.35 L353.60,105.81 L354.79,105.29 L355.99,104.79 L357.19,104.31 L358.38,103.86 L359.58,103.43 L360.78,103.02 L361.98,102.63 L363.17,102.27 L364.37,101.93 L365.57,101.62 L366.76,101.33 L367.96,101.06 L369.16,100.82 L370.35,100.60 L371.55,100.41 L372.75,100.24 L373.95,100.10 L375.14,99.98 L376.34,99.89 L377.54,99.83 L378.73,99.79 L379.93,99.77 L381.13,99.78 L382.32,99.81 L383.52,99.87 L384.72,99.95 L385.92,100.06 L387.11,100.19 L388.31,100.34 L389.51,100.51 L390.70,100.71 L391.90,100.92 L393.10,101.16 L394.29,101.42 L395.49,101.70 L396.69,102.00 L397.89,102.32 L399.08,102.66 L400.28,103.02 L401.48,103.39 L402.67,103.79 L403.87,104.20 L405.07,104.63 L406.26,105.08 L407.46,105.55 L408.66,106.03 L409.86,106.53 L411.05,107.05 L412.25,107.58 L413.45,108.13 L414.64,108.69 L415.84,109.27 L417.04,109.86 L418.23,110.46 L419.43,111.08 L420.63,111.72 L421.83,112.36 L423.02,113.02 L424.22,113.69 L425.42,114.37 L426.61,115.07 L427.81,115.77 L429.01,116.49 L430.20,117.22 L431.40,117.95 L432.60,118.70 L433.80,119.46 L434.99,120.23 L436.19,121.00 L437.39,121.78 L438.58,122.58 L439.78,123.38 L440.98,124.19 L442.17,125.00 L443.37,125.82 L444.57,126.65 L445.77,127.48 L446.96,128.32 L448.16,129.17 L449.36,130.02 L450.55,130.88 L451.75,131.74 L452.95,132.60 L454.14,133.47 L455.34,134.34 L456.54,135.22 L457.74,136.10 L458.93,136.98 L460.13,137.86 L461.33,138.75 L462.52,139.63 L463.72,140.52 L464.92,141.41 L466.11,142.30 L467.31,143.19 L468.51,144.09 L469.71,144.98 L470.90,145.87 L472.10,146.76 L473.30,147.65 L474.49,148.54 L475.69,149.43 L476.89,150.32 L478.08,151.20 L479.28,152.08 L480.48,152.96 L481.68,153.84 L482.87,154.72 L484.07,155.59 L485.27,156.45 L486.46,157.32 L487.66,158.17 L488.86,159.03 L490.05,159.88 L491.25,160.73 L492.45,161.57 L493.65,162.40 L494.84,163.24 L496.04,164.07 L497.24,164.89 L498.43,165.71 L499.63,166.52 L500.83,167.33 L502.02,168.14 L503.22,168.94 L504.42,169.74 L505.62,170.53 L506.81,171.31 L508.01,172.09 L509.21,172.87 L510.40,173.64 L511.60,174.40 L512.80,175.16 L513.99,175.92 L515.19,176.67 L516.39,177.41 L517.59,178.15 L518.78,178.88 L519.98,179.61 L521.18,180.33 L522.37,181.04 L523.57,181.75 L524.77,182.46 L525.96,183.15 L527.16,183.85 L528.36,184.53 L529.56,185.21 L530.75,185.89 L531.95,186.56 L533.15,187.22 L534.34,187.88 L535.54,188.53 L536.74,189.18 L537.93,189.82 L539.13,190.46 L540.33,191.09 L541.53,191.72 L542.72,192.35 L543.92,192.97 L545.12,193.58 L546.31,194.20 L547.51,194.80 L548.71,195.41 L549.90,196.01 L551.10,196.61 L552.30,197.20 L553.49,197.79 L554.69,198.38 L555.89,198.96 L557.09,199.54 L558.28,200.12 L559.48,200.69 L560.68,201.27 L561.87,201.84 L563.07,202.40 L564.27,202.97 L565.46,203.53 L566.66,204.09 L567.86,204.65 L569.06,205.21 L570.25,205.77 L571.45,206.32 L572.65,206.87 L573.84,207.43 L575.04,207.98 L576.24,208.53 L577.43,209.07 L578.63,209.62 L579.83,210.17 L581.03,210.72 L582.22,211.26 L583.42,211.81 L584.62,212.35 L585.81,212.90 L587.01,213.44 L588.21,213.99 L589.40,214.54 L590.60,215.08 L591.80,215.63 L593.00,216.18 L594.19,216.72 L595.39,217.27 L596.59,217.82 L597.78,218.37 L598.98,218.93 L600.18,219.48 L601.37,220.04 L602.57,220.59 L603.77,221.15 L604.97,221.71 L606.16,222.27 L607.36,222.84 L608.56,223.40 L609.75,223.97 L610.95,224.55 L612.15,225.12 L613.34,225.70 L614.54,226.28 L615.74,226.86 L616.94,227.44 L618.13,228.03 L619.33,228.62 L620.53,229.22 L621.72,229.82 L622.92,230.42 L624.12,231.03 L625.31,231.64 L626.51,232.25 L627.71,232.87 L628.91,233.49 L630.10,234.12 L631.30,234.75 L632.50,235.39 L633.69,236.03 L634.89,236.67 L636.09,237.32 L637.28,237.97 L638.48,238.63 L639.68,239.29 L640.88,239.95 L642.07,240.62 L643.27,241.30 L644.47,241.97 L645.66,242.65 L646.86,243.34 L648.06,244.03 L649.25,244.72 L650.45,245.42 L651.65,246.12 L652.85,246.82 L654.04,247.53 L655.24,248.24 L656.44,248.96 L657.63,249.68 L658.83,250.41 L660.03,251.13 L661.22,251.86 L662.42,252.60 L663.62,253.34 L664.82,254.08 L666.01,254.83 L667.21,255.58 L668.41,256.33 L669.60,257.09 L670.80,257.85 L672.00,258.61 L673.19,259.38 L674.39,260.15 L675.59,260.92 L676.79,261.70 L677.98,262.48 L679.18,263.27 L680.38,264.05 L681.57,264.85 L682.77,265.64 L683.97,266.44 L685.16,267.24 L686.36,268.04 L687.56,268.85 L688.76,269.66 L689.95,270.47 L691.15,271.29 L692.35,272.11 L693.54,272.93 L694.74,273.76 L695.94,274.59 L697.13,275.42 L698.33,276.26 L699.53,277.10 L700.73,277.94 L701.92,278.78 L703.12,279.63 L704.32,280.48 L705.51,281.33 L706.71,282.19 L707.91,283.05 L709.10,283.91 L710.30,284.77 L711.50,285.64 L712.70,286.51 L713.89,287.38 L715.09,288.26 L716.29,289.13 L717.48,290.01 L718.68,290.90 L719.88,291.78 L721.07,292.67 L722.27,293.56 L723.47,294.45 L724.67,295.35 L725.86,296.25 L727.06,297.15 L728.26,298.05 L729.45,298.95 L730.65,299.86 L731.85,300.77 L733.04,301.68 L734.24,302.60 L735.44,303.52 L736.64,304.43 L737.83,305.36 L739.03,306.28 L740.23,307.21 L741.42,308.13 L742.62,309.06 L743.82,310.00 L745.01,310.93 L746.21,311.87 L747.41,312.80 L748.61,313.75 L749.80,314.69 L751.00,315.63 L752.20,316.58 L753.39,317.53 L754.59,318.48 L755.79,319.43 L756.98,320.38 L758.18,321.34 L759.38,322.30 L760.58,323.26 L761.77,324.22 L762.97,325.18 L764.17,326.14 L765.36,327.11 L766.56,328.08 L767.76,329.05 L768.95,330.02 L770.15,330.99 L771.35,331.97 L772.55,332.94 L773.74,333.92 L774.94,334.90 L776.14,335.88 L777.33,336.86 L778.53,337.85 L779.73,338.83 L780.92,339.82 L782.12,340.80 L783.32,341.79 L784.52,342.78 L785.71,343.77 L786.91,344.77 L788.11,345.76 L789.30,346.76 L790.50,347.75" stroke="#00ff00"/>
</g>
<path d="M106.69,518.5V503.8M106.69,17.5V32.2M173.08,518.5V503.8M173.08,17.5V32.2M239.47,518.5V503.8M239.47,17.5V32.2M305.86,518.5V503.8M305.86,17.5V32.2M372.25,518.5V503.8M372.25,17.5V32.2M438.64,518.5V503.8M438.64,17.5V32.2M505.03,518.5V503.8M505.03,17.5V32.2M571.42,518.5V503.8M571.42,17.5V32.2M637.81,518.5V503.8M637.81,17.5V32.2M704.19,518.5V503.8M704.19,17.5V32.2M770.58,518.5V503.8M770.58,17.5V32.2M139.89,518.5V511.2M139.89,17.5V24.8M206.28,518.5V511.2M206.28,17.5V24.8M272.67,518.5V511.2M272.67,17.5V24.8M339.06,518.5V511.2M339.06,17.5V24.8M405.44,518.5V511.2M405.44,17.5V24.8M471.83,518.5V511.2M471.83,17.5V24.8M538.22,518.5V511.2M538.22,17.5V24.8M604.61,518.5V511.2M604.61,17.5V24.8M671.00,518.5V511.2M671.00,17.5V24.8M737.39,518.5V511.2M737.39,17.5V24.8M73.5,518.50H88.2M790.5,518.50H775.8M73.5,393.25H88.2M790.5,393.25H775.8M73.5,268.00H88.2M790.5,268.00H775.8M73.5,142.75H88.2M790.5,142.75H775.8M73.5,17.50H88.2M790.5,17.50H775.8M73.5,455.88H80.8M790.5,455.88H783.2M73.5,330.62H80.8M790.5,330.62H783.2M73.5,205.38H80.8M790.5,205.38H783.2M73.5,80.12H80.8M790.5,80.12H783.2" stroke="#000" stroke-width="3" fill="none"/>
<rect x="73.5" y="17.5" width="717.0" height="501.0" fill="none" stroke="#000" stroke-width="3"/>
<text x="66.3" y="528.10" text-anchor="end" font-family="Liberation Serif" font-weight="bold" font-size="28.8" letter-spacing="-0.6">0</text>
<text x="66.3" y="402.85" text-anchor="end" font-family="Liberation Serif" font-weight="bold" font-size="28.8" letter-spacing="-0.6">0.1</text>
<text x="66.3" y="277.60" text-anchor="end" font-family="Liberation Serif" font-weight="bold" font-size="28.8" letter-spacing="-0.6">0.2</text>
<text x="66.3" y="152.35" text-anchor="end" font-family="Liberation Serif" font-weight="bold" font-size="28.8" letter-spacing="-0.6">0.3</text>
<text x="66.3" y="27.10" text-anchor="end" font-family="Liberation Serif" font-weight="bold" font-size="28.8" letter-spacing="-0.6">0.4</text>
<text transform="translate(106.69,543) scale(0.97,1)" text-anchor="middle" font-family="Liberation Serif" font-weight="bold" font-size="27" letter-spacing="-1.5">-7</text>
<text transform="translate(173.08,543) scale(0.97,1)" text-anchor="middle" font-family="Liberation Serif" font-weight="bold" font-size="27" letter-spacing="-1.5">-6</text>
<text transform="translate(239.47,543) scale(0.97,1)" text-anchor="middle" font-family="Liberation Serif" font-weight="bold" font-size="27" letter-spacing="-1.5">-5</text>
<text transform="translate(305.86,543) scale(0.97,1)" text-anchor="middle" font-family="Liberation Serif" font-weight="bold" font-size="27" letter-spacing="-1.5">-4</text>
<text transform="translate(372.25,543) scale(0.97,1)" text-anchor="middle" font-family="Liberation Serif" font-weight="bold" font-size="27" letter-spacing="-1.5">-3</text>
<text transform="translate(438.64,543) scale(0.97,1)" text-anchor="middle" font-family="Liberation Serif" font-weight="bold" font-size="27" letter-spacing="-1.5">-2</text>
<text transform="translate(505.03,543) scale(0.97,1)" text-anchor="middle" font-family="Liberation Serif" font-weight="bold" font-size="27" letter-spacing="-1.5">-1</text>
<text transform="translate(571.42,543) scale(0.97,1)" text-anchor="middle" font-family="Liberation Serif" font-weight="bold" font-size="27" letter-spacing="-1.5">0</text>
<text transform="translate(637.81,543) scale(0.97,1)" text-anchor="middle" font-family="Liberation Serif" font-weight="bold" font-size="27" letter-spacing="-1.5">1</text>
<text transform="translate(704.19,543) scale(0.97,1)" text-anchor="middle" font-family="Liberation Serif" font-weight="bold" font-size="27" letter-spacing="-1.5">2</text>
<text transform="translate(770.58,543) scale(0.97,1)" text-anchor="middle" font-family="Liberation Serif" font-weight="bold" font-size="27" letter-spacing="-1.5">3</text>

<rect x="109.55" y="53.4" width="168.55" height="78" fill="#fff" stroke="#000" stroke-width="2.8"/>
<path d="M118.5,68.75H147" stroke="#0000ff" stroke-width="3.2"/>
<path d="M118.5,116H147" stroke="#00ff00" stroke-width="3.2"/>
<rect x="128.6" y="88.0" width="8.8" height="8.8" fill="none" stroke="#ff0000" stroke-width="3.4"/>
<text transform="translate(161.7,76.5) scale(1,1.07)" font-family="Liberation Serif" font-weight="bold" font-size="24" letter-spacing="-0.3">SMF</text>
<text transform="translate(161.7,100.1) scale(1,1.03)" font-family="Liberation Serif" font-weight="bold" font-size="24" letter-spacing="-0.3">Simulation</text>
<text transform="translate(161.7,124.0) scale(1,1.08)" font-family="Liberation Serif" font-weight="bold" font-size="24" letter-spacing="-0.3">CMF</text>
<text transform="matrix(1.01,0,0,1.03,359.6,569.5)" font-family="Liberation Serif" font-weight="bold" font-size="28">Energy,</text>
<text transform="matrix(1.158,0,0,0.982,459.67,569.75)" font-family="Liberation Serif" font-weight="bold" font-style="italic" font-size="28">k</text>
<text transform="matrix(1.139,0,0,1.015,474.6,580.3)" font-family="Liberation Serif" font-style="italic" font-size="20">B</text>
<text transform="matrix(1.031,0,0,1.049,489.34,569.75)" font-family="Liberation Serif" font-weight="bold" font-style="italic" font-size="28">T</text>
<text transform="translate(26.15,311.83) rotate(-90) scale(0.886,1.008)" font-family="Liberation Serif" font-weight="bold" font-size="28">Current</text>
</svg>
</body></html>
